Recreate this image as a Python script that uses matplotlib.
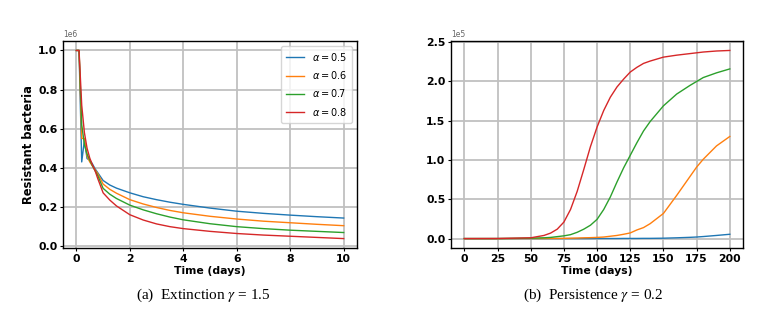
import matplotlib
matplotlib.use("Agg")
import matplotlib.pyplot as plt

# left panel: extinction, gamma = 1.5 (values in units of 1e6)
t_ext = [0, 0.1, 0.2, 0.3, 0.4, 0.5, 0.6, 0.7, 0.8, 1.0, 1.25, 1.5, 2, 2.5, 3, 3.5, 4, 5, 6, 7, 8, 9, 10]
ext_a05 = [1.0, 1.0, 0.43, 0.54, 0.447, 0.44, 0.42, 0.395, 0.375, 0.335, 0.312, 0.296, 0.272, 0.252, 0.237, 0.224, 0.213, 0.194, 0.178, 0.167, 0.158, 0.150, 0.143]
ext_a06 = [1.0, 1.0, 0.55, 0.55, 0.46, 0.43, 0.41, 0.39, 0.37, 0.317, 0.29, 0.27, 0.237, 0.215, 0.197, 0.182, 0.170, 0.152, 0.138, 0.127, 0.119, 0.111, 0.104]
ext_a07 = [1.0, 1.0, 0.62, 0.52, 0.47, 0.44, 0.41, 0.385, 0.36, 0.295, 0.265, 0.243, 0.209, 0.185, 0.165, 0.148, 0.134, 0.114, 0.099, 0.089, 0.081, 0.075, 0.069]
ext_a08 = [1.0, 1.0, 0.72, 0.58, 0.50, 0.45, 0.415, 0.385, 0.345, 0.272, 0.235, 0.205, 0.160, 0.133, 0.113, 0.099, 0.089, 0.075, 0.064, 0.056, 0.050, 0.044, 0.038]

# right panel: persistence, gamma = 0.2 (values in units of 1e5)
t_per = [0, 25, 50, 60, 65, 70, 75, 80, 85, 90, 95, 100, 105, 110, 115, 120, 125, 130, 135, 140, 150, 160, 170, 175, 180, 190, 200]
per_a05 = [0, 0, 0, 0, 0, 0, 0, 0, 0, 0, 0, 0.001, 0.001, 0.001, 0.001, 0.002, 0.002, 0.002, 0.003, 0.003, 0.005, 0.01, 0.016, 0.02, 0.026, 0.04, 0.055]
per_a06 = [0, 0, 0.001, 0.001, 0.002, 0.002, 0.003, 0.005, 0.007, 0.01, 0.012, 0.015, 0.02, 0.03, 0.04, 0.055, 0.072, 0.11, 0.14, 0.19, 0.32, 0.55, 0.79, 0.91, 1.01, 1.18, 1.30]
per_a07 = [0, 0, 0.005, 0.01, 0.015, 0.025, 0.035, 0.05, 0.08, 0.12, 0.17, 0.245, 0.37, 0.53, 0.72, 0.90, 1.06, 1.22, 1.37, 1.49, 1.69, 1.84, 1.95, 2.00, 2.05, 2.11, 2.16]
per_a08 = [0, 0.001, 0.01, 0.04, 0.07, 0.12, 0.21, 0.37, 0.60, 0.88, 1.17, 1.42, 1.63, 1.80, 1.93, 2.03, 2.12, 2.18, 2.23, 2.26, 2.31, 2.335, 2.355, 2.365, 2.375, 2.388, 2.395]

labels = [r"$\alpha = 0.5$", r"$\alpha = 0.6$", r"$\alpha = 0.7$", r"$\alpha = 0.8$"]
colors = ["tab:blue", "tab:orange", "tab:green", "tab:red"]

plt.rcParams["font.family"] = "DejaVu Sans"
plt.rcParams["mathtext.fontset"] = "dejavusans"

fig = plt.figure(figsize=(7.75, 3.15), dpi=100)
ax1 = fig.add_axes([0.0813, 0.2127, 0.3794, 0.657])
ax2 = fig.add_axes([0.582, 0.2127, 0.3768, 0.657])

for ys, lab, c in zip([ext_a05, ext_a06, ext_a07, ext_a08], labels, colors):
    ax1.plot(t_ext, [v * 1e6 for v in ys], color=c, lw=1.0, label=lab)
for ys, c in zip([per_a05, per_a06, per_a07, per_a08], colors):
    ax2.plot(t_per, [v * 1e5 for v in ys], color=c, lw=1.0)

ax1.set_xticks([0, 2, 4, 6, 8, 10])
ax1.set_yticks([0, 0.2e6, 0.4e6, 0.6e6, 0.8e6, 1.0e6])
ax2.set_xticks([0, 25, 50, 75, 100, 125, 150, 175, 200])
ax2.set_yticks([0, 0.5e5, 1.0e5, 1.5e5, 2.0e5, 2.5e5])
ax2.ticklabel_format(axis="y", style="sci", scilimits=(0, 0))

for ax in (ax1, ax2):
    ax.grid(True, color="#c0c0c0", lw=1.3)
    ax.set_axisbelow(True)
    ax.tick_params(labelsize=7.8, length=2.5, width=0.8, pad=1.5)
    for lab in ax.get_xticklabels() + ax.get_yticklabels():
        lab.set_fontweight("bold")
    off = ax.yaxis.get_offset_text()
    off.set_fontsize(5.5)
    off.set_color("#666666")
    ax.set_xlabel("Time (days)", fontsize=7.8, fontweight="bold", labelpad=1.5)
    for s in ax.spines.values():
        s.set_linewidth(1.0)

ax1.set_ylabel("Resistant bacteria", fontsize=8.3, fontweight="bold", labelpad=2)
ax1.legend(loc="upper right", prop=dict(size=7), handlelength=1.9,
           borderpad=0.5, labelspacing=0.65, handletextpad=0.8)

cap = dict(family="Liberation Serif", size=11, ha="center", va="center",
           math_fontfamily="stix")
fig.text(0.262, 0.062, r"(a)  Extinction $\gamma$ = 1.5", **cap)
fig.text(0.765, 0.062, r"(b)  Persistence $\gamma$ = 0.2", **cap)

fig.savefig("out.png", dpi=100)
